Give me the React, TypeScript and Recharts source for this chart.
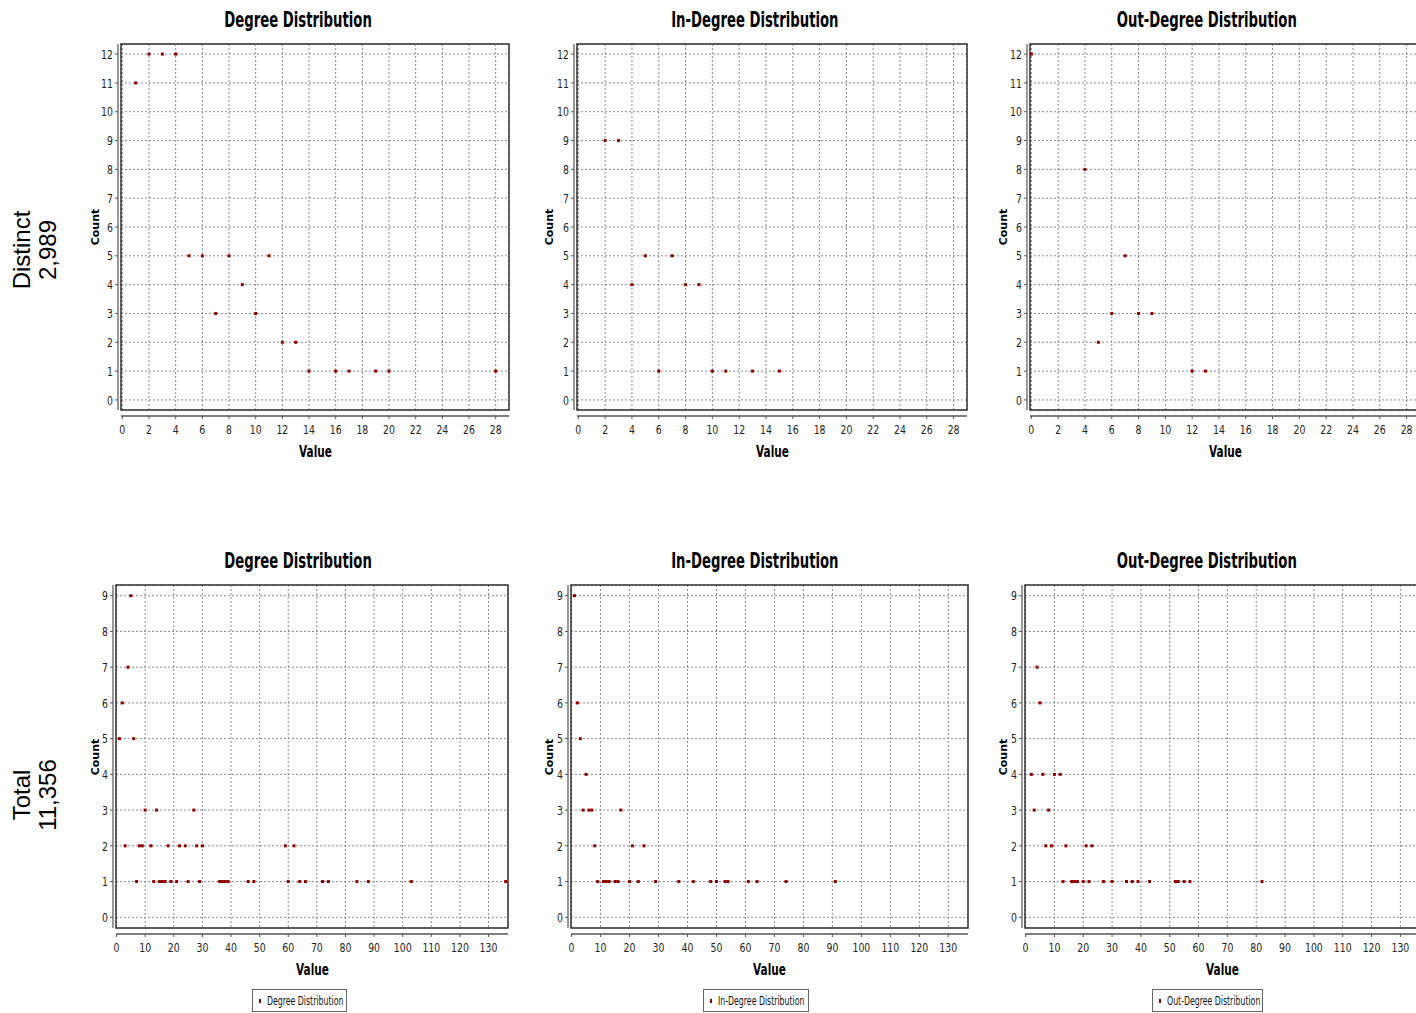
import { CartesianGrid, ReferenceArea, Scatter, ScatterChart, XAxis, YAxis } from 'recharts';

// tick labels
const topValueTicks = [0, 2, 4, 6, 8, 10, 12, 14, 16, 18, 20, 22, 24, 26, 28];
const topCountTicks = [0, 1, 2, 3, 4, 5, 6, 7, 8, 9, 10, 11, 12];
const bottomValueTicks = [0, 10, 20, 30, 40, 50, 60, 70, 80, 90, 100, 110, 120, 130];
const bottomCountTicks = [0, 1, 2, 3, 4, 5, 6, 7, 8, 9];

// distinct (2,989)
const distinctDegreeValue = [1, 2, 3, 4, 5, 6, 7, 8, 9, 10, 11, 12, 13, 14, 16, 17, 19, 20, 28];
const distinctDegreeCount = [11, 12, 12, 12, 5, 5, 3, 5, 4, 3, 5, 2, 2, 1, 1, 1, 1, 1, 1];
const distinctInValue = [2, 3, 4, 5, 6, 7, 8, 9, 10, 11, 13, 15];
const distinctInCount = [9, 9, 4, 5, 1, 5, 4, 4, 1, 1, 1, 1];
const distinctOutValue = [0, 4, 5, 6, 7, 8, 9, 12, 13];
const distinctOutCount = [12, 8, 2, 3, 5, 3, 3, 1, 1];

// total (11,356)
const totalDegreeValue = [
  1, 2, 3, 4, 5, 6, 7, 8, 9, 10, 12, 13, 14, 15, 16, 17, 18, 19, 21, 22, 24, 25, 27, 28, 29, 30,
  36, 37, 38, 39, 46, 48, 59, 60, 62, 64, 66, 72, 74, 84, 88, 103, 136,
];
const totalDegreeCount = [
  5, 6, 2, 7, 9, 5, 1, 2, 2, 3, 2, 1, 3, 1, 1, 1, 2, 1, 1, 2, 2, 1, 3, 2, 1, 2,
  1, 1, 1, 1, 1, 1, 2, 1, 2, 1, 1, 1, 1, 1, 1, 1, 1,
];
const totalInValue = [
  1, 2, 3, 4, 5, 6, 7, 8, 9, 11, 12, 13, 15, 16, 17, 20, 21, 23, 25, 29, 37, 42, 48, 50, 53, 54, 61, 64, 74, 91,
];
const totalInCount = [
  9, 6, 5, 3, 4, 3, 3, 2, 1, 1, 1, 1, 1, 1, 3, 1, 2, 1, 2, 1, 1, 1, 1, 1, 1, 1, 1, 1, 1, 1,
];
const totalOutValue = [
  2, 3, 4, 5, 6, 7, 8, 9, 10, 12, 13, 14, 16, 17, 18, 20, 21, 22, 23, 27, 30, 35, 37, 39, 43, 52, 53, 55, 57, 82,
];
const totalOutCount = [
  4, 3, 7, 6, 4, 2, 3, 2, 4, 4, 1, 2, 1, 1, 1, 1, 2, 1, 2, 1, 1, 1, 1, 1, 1, 1, 1, 1, 1, 1,
];

const MARK = '#8b0000';
const FONT = "'DejaVu Sans', sans-serif";
const Y_AXIS_W = 36;
const X_AXIS_H = 34;
const PAD = 4;

interface Rect {
  left: number;
  top: number;
  right: number;
  bottom: number;
}

interface PanelProps {
  title: string;
  titleCenter: number;
  titleTop: number;
  countX: number;
  plot: Rect;
  xDomain: [number, number];
  yDomain: [number, number];
  xTicks: number[];
  yTicks: number[];
  values: number[];
  counts: number[];
  legend?: { left: number; width: number };
}

// no condensed face is installed, so narrow text is squeezed horizontally
function Narrow({ scale, children }: { scale: number; children: React.ReactNode }) {
  return (
    <span style={{ display: 'inline-block', transform: `scaleX(${scale})`, whiteSpace: 'nowrap' }}>{children}</span>
  );
}

function Square(props: { cx?: number; cy?: number }) {
  const { cx = 0, cy = 0 } = props;
  return <rect x={cx - 1.5} y={cy - 1.5} width={3} height={3} fill={MARK} />;
}

function NarrowTick(props: { x?: number; y?: number; payload?: { value: number }; axis: 'x' | 'y' }) {
  const { x = 0, y = 0, payload, axis } = props;
  return (
    <g transform={`translate(${x},${y}) scale(0.72,1)`}>
      <text
        x={0}
        y={0}
        dy={axis === 'x' ? '0.71em' : '0.36em'}
        textAnchor={axis === 'x' ? 'middle' : 'end'}
        fill="#222"
        fontSize={13}
        fontFamily={FONT}
      >
        {payload?.value}
      </text>
    </g>
  );
}

function Panel({ title, titleCenter, titleTop, countX, plot, xDomain, yDomain, xTicks, yTicks, values, counts, legend }: PanelProps) {
  const points = values.map((v, i) => ({ value: v, count: counts[i] }));
  const chartLeft = plot.left - Y_AXIS_W;
  const chartTop = plot.top - PAD;
  const width = plot.right - chartLeft + PAD;
  const height = plot.bottom - chartTop + X_AXIS_H;
  const midX = (plot.left + plot.right) / 2;
  const midY = (plot.top + plot.bottom) / 2;

  return (
    <>
      <div
        style={{
          position: 'absolute',
          left: titleCenter - 150,
          width: 300,
          top: titleTop,
          textAlign: 'center',
          fontFamily: FONT,
          fontWeight: 'bold',
          fontSize: 21,
          color: '#000',
        }}
      >
        <Narrow scale={0.63}>{title}</Narrow>
      </div>
      <div
        style={{
          position: 'absolute',
          left: countX - 30,
          top: midY - 30,
          width: 60,
          height: 60,
          display: 'flex',
          alignItems: 'center',
          justifyContent: 'center',
          transform: 'rotate(-90deg)',
          fontFamily: FONT,
          fontWeight: 'bold',
          fontSize: 11,
          color: '#000',
        }}
      >
        Count
      </div>
      <div style={{ position: 'absolute', left: chartLeft, top: chartTop }}>
        <ScatterChart width={width} height={height} margin={{ top: PAD, right: PAD, left: 0, bottom: 0 }}>
          <CartesianGrid stroke="#8a8a8a" strokeDasharray="2 2" />
          <XAxis
            type="number"
            dataKey="value"
            domain={xDomain}
            ticks={xTicks}
            allowDataOverflow
            interval={0}
            height={X_AXIS_H}
            axisLine={{ stroke: '#555', strokeWidth: 1.5, transform: 'translate(0,6)' }}
            tickLine={{ stroke: '#555', transform: 'translate(0,6)' }}
            tickSize={3}
            tickMargin={12}
            tick={(p: any) => <NarrowTick {...p} axis="x" />}
          />
          <YAxis
            type="number"
            dataKey="count"
            domain={yDomain}
            ticks={yTicks}
            allowDataOverflow
            interval={0}
            width={Y_AXIS_W}
            axisLine={{ stroke: '#777', strokeWidth: 1.5, transform: 'translate(-3,0)' }}
            tickLine={{ stroke: '#555', transform: 'translate(-3,0)' }}
            tickSize={3}
            tickMargin={5}
            tick={(p: any) => <NarrowTick {...p} axis="y" />}
          />
          <ReferenceArea
            x1={xDomain[0]}
            x2={xDomain[1]}
            y1={yDomain[0]}
            y2={yDomain[1]}
            fill="none"
            stroke="#333"
            strokeWidth={1.5}
            ifOverflow="visible"
          />
          <Scatter data={points} fill={MARK} shape={Square} isAnimationActive={false} />
        </ScatterChart>
      </div>
      <div
        style={{
          position: 'absolute',
          left: midX - 50,
          width: 100,
          top: plot.bottom + 33,
          textAlign: 'center',
          fontFamily: FONT,
          fontWeight: 'bold',
          fontSize: 15,
          color: '#000',
        }}
      >
        <Narrow scale={0.7}>Value</Narrow>
      </div>
      {legend && (
        <div
          style={{
            position: 'absolute',
            left: legend.left,
            top: 989,
            width: legend.width,
            height: 23,
            boxSizing: 'border-box',
            border: '1px solid #666',
            display: 'flex',
            alignItems: 'center',
            justifyContent: 'center',
            fontFamily: FONT,
            fontSize: 13,
            color: '#111',
          }}
        >
          <span style={{ display: 'inline-block', width: 2, height: 4, background: MARK, marginRight: 6 }} />
          <span style={{ display: 'inline-block', width: legend.width - 22, overflow: 'visible', textAlign: 'left' }}>
            <span style={{ display: 'inline-block', transform: 'scaleX(0.6)', transformOrigin: 'left center', whiteSpace: 'nowrap' }}>
              {title}
            </span>
          </span>
        </div>
      )}
    </>
  );
}

function RowLabel({ name, total, center }: { name: string; total: string; center: number }) {
  return (
    <div
      style={{
        position: 'absolute',
        left: 39 - 80,
        top: center - 30,
        width: 160,
        height: 60,
        transform: 'rotate(-90deg)',
        textAlign: 'center',
        fontFamily: "'Liberation Sans', Arial, sans-serif",
        fontSize: 24,
        lineHeight: '26px',
        color: '#000',
      }}
    >
      <div>{name}</div>
      <div>{total}</div>
    </div>
  );
}

export default function App() {
  const topY: [number, number] = [-0.35, 12.35];
  const topX: [number, number] = [-0.1, 29];
  const botY: [number, number] = [-0.3, 9.3];
  const botX: [number, number] = [-0.2, 136.8];
  const topPlot = { top: 44, bottom: 410 };
  const botPlot = { top: 585, bottom: 928 };

  return (
    <div
      style={{
        position: 'fixed',
        left: 0,
        top: 0,
        width: 1416,
        height: 1013,
        overflow: 'hidden',
        background: '#fff',
      }}
    >
      <RowLabel name="Distinct" total="2,989" center={250} />
      <RowLabel name="Total" total="11,356" center={795} />

      <Panel
        title="Degree Distribution"
        titleCenter={298}
        titleTop={8}
        countX={95}
        plot={{ left: 121, right: 509, ...topPlot }}
        xDomain={topX}
        yDomain={topY}
        xTicks={topValueTicks}
        yTicks={topCountTicks}
        values={distinctDegreeValue}
        counts={distinctDegreeCount}
      />
      <Panel
        title="In-Degree Distribution"
        titleCenter={755}
        titleTop={8}
        countX={549}
        plot={{ left: 577, right: 967, ...topPlot }}
        xDomain={topX}
        yDomain={topY}
        xTicks={topValueTicks}
        yTicks={topCountTicks}
        values={distinctInValue}
        counts={distinctInCount}
      />
      <Panel
        title="Out-Degree Distribution"
        titleCenter={1207}
        titleTop={8}
        countX={1003}
        plot={{ left: 1030, right: 1420, ...topPlot }}
        xDomain={topX}
        yDomain={topY}
        xTicks={topValueTicks}
        yTicks={topCountTicks}
        values={distinctOutValue}
        counts={distinctOutCount}
      />

      <Panel
        title="Degree Distribution"
        titleCenter={298}
        titleTop={549}
        countX={95}
        plot={{ left: 116, right: 508, ...botPlot }}
        xDomain={botX}
        yDomain={botY}
        xTicks={bottomValueTicks}
        yTicks={bottomCountTicks}
        values={totalDegreeValue}
        counts={totalDegreeCount}
        legend={{ left: 252, width: 95 }}
      />
      <Panel
        title="In-Degree Distribution"
        titleCenter={755}
        titleTop={549}
        countX={549}
        plot={{ left: 571, right: 968, ...botPlot }}
        xDomain={botX}
        yDomain={botY}
        xTicks={bottomValueTicks}
        yTicks={bottomCountTicks}
        values={totalInValue}
        counts={totalInCount}
        legend={{ left: 703, width: 106 }}
      />
      <Panel
        title="Out-Degree Distribution"
        titleCenter={1207}
        titleTop={549}
        countX={1003}
        plot={{ left: 1025, right: 1420, ...botPlot }}
        xDomain={botX}
        yDomain={botY}
        xTicks={bottomValueTicks}
        yTicks={bottomCountTicks}
        values={totalOutValue}
        counts={totalOutCount}
        legend={{ left: 1152, width: 111 }}
      />
    </div>
  );
}
